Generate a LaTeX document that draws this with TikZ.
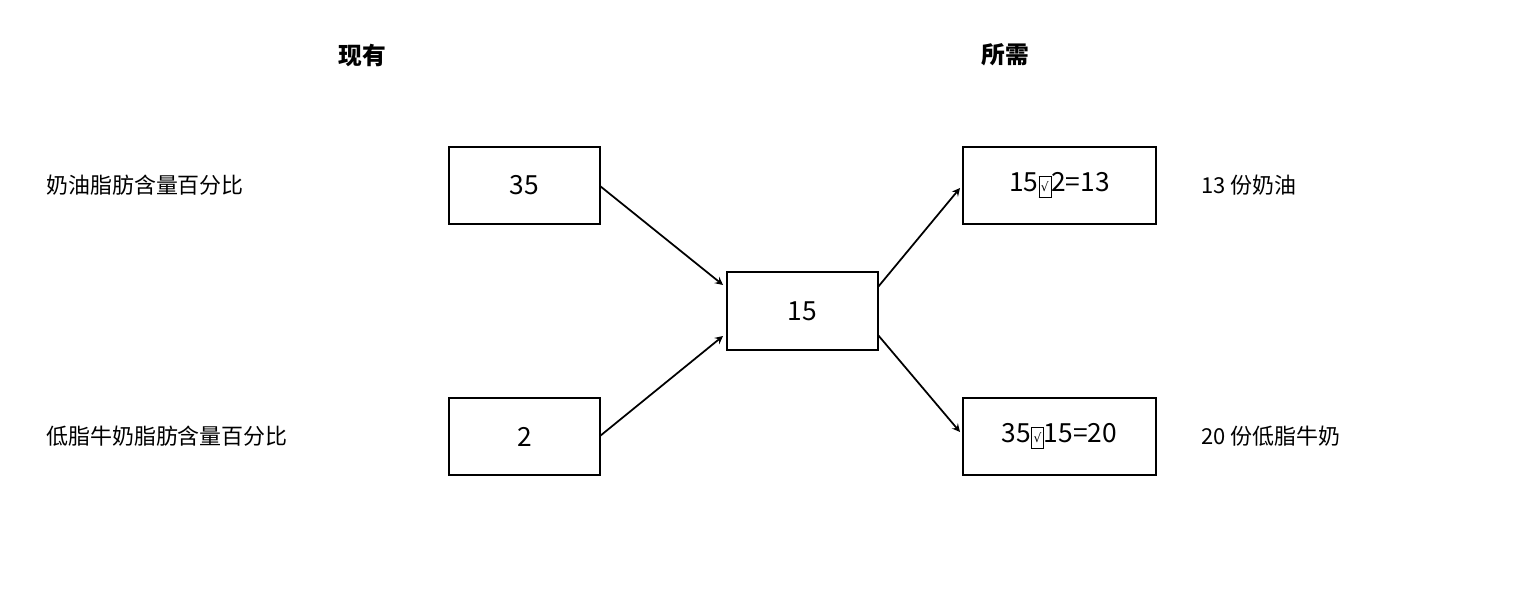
\documentclass[tikz,border=0pt]{standalone}
\usepackage{fontspec}
\setmainfont{Noto Sans CJK SC}
\newfontfamily\symf{DejaVu Sans}
\newcommand{\tofu}{\fbox{\kern-2pt\symf\scriptsize √\kern-2pt}}
\begin{document}
\begin{tikzpicture}[x=0.02cm,y=-0.02cm,
 bx/.style={draw,line width=1.2pt,inner sep=0pt,font=\fontsize{15}{18}\selectfont},
 lbl/.style={anchor=west,font=\fontsize{12.5}{15}\selectfont},
 hd/.style={font=\bfseries\fontsize{13.5}{16}\selectfont},
 ar/.style={-stealth,line width=1pt}]
\useasboundingbox (0,0) rectangle (1540,588);
\node[hd] (h1) at (362,55) {现有};
\node[hd] (h2) at (1005,55) {所需};
\node[lbl] (l1) at (40,185) {奶油脂肪含量百分比};
\node[lbl] (l2) at (40,436) {低脂牛奶脂肪含量百分比};
\node[bx,minimum width=151*0.02cm,minimum height=77*0.02cm] (a) at (524.5,185.5) {35};
\node[bx,minimum width=151*0.02cm,minimum height=77*0.02cm] (b) at (524.5,436.5) {2};
\node[bx,minimum width=151*0.02cm,minimum height=78*0.02cm] (c) at (802.5,311) {15};
\node[bx,minimum width=193*0.02cm,minimum height=77*0.02cm] (d) at (1059.5,185.5) {15\tofu2=13};
\node[bx,minimum width=193*0.02cm,minimum height=77*0.02cm] (e) at (1059.5,436.5) {35\tofu15=20};
\node[lbl] (r1) at (1195,185) {13 份奶油};
\node[lbl] (r2) at (1195,436) {20 份低脂牛奶};
\coordinate (a1) at (600,186); \coordinate (c1) at (723,285);
\coordinate (b1) at (600,436); \coordinate (c2) at (723,336);
\coordinate (c3) at (878,287); \coordinate (d1) at (960,188);
\coordinate (c4) at (878,335); \coordinate (e1) at (960,432);
\draw[ar] (a1) -- (c1);
\draw[ar] (b1) -- (c2);
\draw[ar] (c3) -- (d1);
\draw[ar] (c4) -- (e1);
\end{tikzpicture}
\end{document}
